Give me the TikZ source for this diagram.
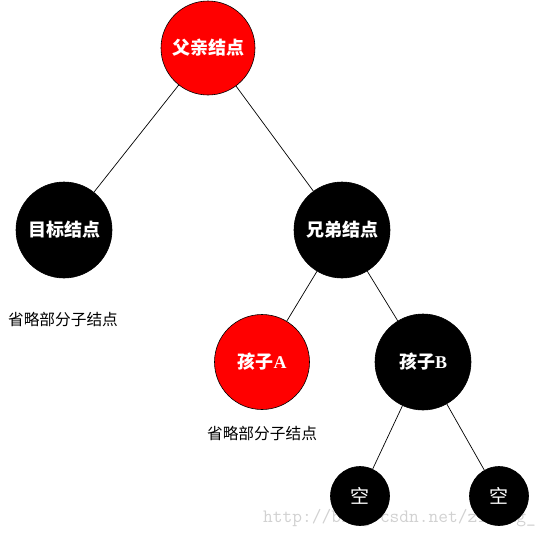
\documentclass[tikz,border=0pt]{standalone}
\usepackage{fontspec}
\setmainfont{Liberation Serif}
\newfontfamily\cjk{Noto Sans CJK SC}
\begin{document}
\begin{tikzpicture}[x=1pt,y=-1pt,
  redn/.style={circle,draw=black,line width=0.6pt,fill=red,text=white,font=\cjk\bfseries\fontsize{18}{20}\selectfont,inner sep=0pt,minimum size=#1},
  blkn/.style={circle,draw=black,line width=0.6pt,fill=black,text=white,font=\cjk\bfseries\fontsize{18}{20}\selectfont,inner sep=0pt,minimum size=#1},
  edge/.style={draw=black,line width=0.7pt},
  note/.style={font=\cjk\fontsize{15.7}{18}\selectfont,text=black,inner sep=0pt}]
\useasboundingbox (0,0) rectangle (554,536);
\node[redn=94pt] (p) at (208,48) {父亲结点};
\node[blkn=96pt] (t) at (64,230) {目标结点};
\node[blkn=96pt] (s) at (342,230) {兄弟结点};
\node[redn=95pt] (a) at (262,362) {孩子{\rmfamily\bfseries A}};
\node[blkn=96pt] (b) at (423,362) {孩子{\rmfamily\bfseries B}};
\node[blkn=59pt,font=\cjk\fontsize{19}{20}\selectfont] (e1) at (360,496) {空};
\node[blkn=59pt,font=\cjk\fontsize{19}{20}\selectfont] (e2) at (499,496) {空};
\node[note] (n1) at (63,320) {省略部分子结点};
\node[note] (n2) at (262,434) {省略部分子结点};
\path[edge] (p) -- (t);
\path[edge] (p) -- (s);
\path[edge] (s) -- (a);
\path[edge] (s) -- (b);
\path[edge] (b) -- (e1);
\path[edge] (b) -- (e2);
\node[font=\ttfamily\fontsize{18.9}{20}\selectfont,text=black,text opacity=0.18,inner sep=0pt,anchor=base west] (w) at (263,522) {http://blog.csdn.net/ziwang\_};
\end{tikzpicture}
\end{document}
